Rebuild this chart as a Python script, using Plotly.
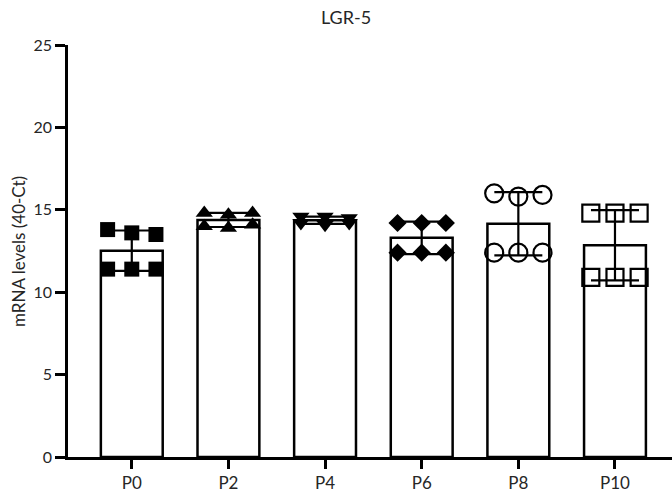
import numpy as np
import plotly.graph_objects as go

# Replicate measurements per passage (mRNA levels, 40-Ct)
groups = ["P0", "P2", "P4", "P6", "P8", "P10"]
p0 = [13.8, 13.6, 13.5, 11.4, 11.4, 11.4]
p2 = [14.8, 14.7, 14.8, 14.0, 13.9, 14.1]
p4 = [14.6, 14.6, 14.5, 14.2, 14.1, 14.2]
p6 = [14.2, 14.2, 14.2, 12.4, 12.4, 12.4]
p8 = [16.0, 15.8, 15.9, 12.4, 12.4, 12.4]
p10 = [14.8, 14.8, 14.8, 10.9, 10.9, 10.9]
replicates = [p0, p2, p4, p6, p8, p10]

# Horizontal spread of the replicate dots within a bar (left, centre, right)
jitter = [-0.25, 0.0, 0.25, -0.25, 0.0, 0.25]

symbols = ["square", "triangle-up", "triangle-down", "diamond", "circle-open", "square-open"]
sizes = [15, 15, 15, 14, 18, 17]

means = [float(np.mean(r)) for r in replicates]
sds = [float(np.std(r, ddof=1)) for r in replicates]
xpos = list(range(len(groups)))

FONT = "Lato, 'Open Sans', sans-serif"
TXT = "#262626"
fig = go.Figure()

fig.add_trace(go.Bar(
    x=xpos, y=means, width=0.64,
    marker=dict(color="white", line=dict(color="black", width=2.5)),
    showlegend=False,
))

for i, vals in enumerate(replicates):
    open_marker = symbols[i].endswith("open")
    fig.add_trace(go.Scatter(
        x=[i + j for j in jitter], y=vals, mode="markers",
        marker=dict(symbol=symbols[i], size=sizes[i], color="black",
                    line=dict(color="black", width=2.2 if open_marker else 0)),
        showlegend=False,
    ))

fig.add_trace(go.Scatter(
    x=xpos, y=means, mode="markers",
    marker=dict(size=1, color="rgba(0,0,0,0)"),
    error_y=dict(type="data", array=sds, visible=True, color="black",
                 thickness=2.2, width=24),
    showlegend=False,
))

fig.update_layout(
    width=672, height=495,
    margin=dict(l=68, r=0, t=45, b=38),
    paper_bgcolor="white", plot_bgcolor="white",
    font=dict(family=FONT, color=TXT),
    title=dict(text="LGR-5", x=346 / 672, xref="container", y=1 - 18 / 495,
               yref="container", yanchor="middle", xanchor="center",
               font=dict(size=18, family=FONT, color=TXT)),
    xaxis=dict(range=[-0.66, 5.59], tickvals=xpos, ticktext=groups,
               showline=True, linecolor="black", linewidth=2.5,
               ticks="outside", ticklen=9, tickwidth=2.5, tickcolor="black",
               showgrid=False, zeroline=False,
               tickfont=dict(size=17, family=FONT, color=TXT)),
    yaxis=dict(range=[0, 25], tickvals=[0, 5, 10, 15, 20, 25],
               showline=True, linecolor="black", linewidth=2.5,
               ticks="outside", ticklen=10, tickwidth=2.5, tickcolor="black",
               showgrid=False, zeroline=False,
               tickfont=dict(size=16, family=FONT, color=TXT)),
    annotations=[dict(text="mRNA levels (40-Ct)", textangle=-90,
                      xref="paper", yref="paper", x=-50 / 604, y=0.5,
                      xanchor="center", yanchor="middle", showarrow=False,
                      font=dict(size=17, family=FONT, color=TXT))],
)

fig.write_html("out.html")
